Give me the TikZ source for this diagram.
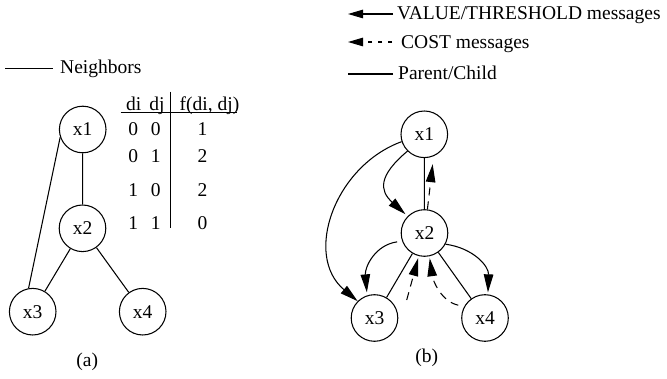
\documentclass[tikz,border=0pt]{standalone}
\usepackage{fontspec}
\setmainfont{Liberation Serif}
\usetikzlibrary{arrows.meta}
\begin{document}
\begin{tikzpicture}[x=1pt,y=-1pt,
  every node/.style={font=\fontsize{19.5}{23}\selectfont},
  var/.style={draw,circle,minimum size=46.6pt,inner sep=0pt,line width=1.05pt},
  link/.style={line width=1.05pt},
  msg/.style={line width=1.05pt,-{Triangle[length=18pt,width=9.5pt]}},
  cost/.style={msg,dash pattern=on 8pt off 6pt},
  txt/.style={anchor=base,inner sep=0pt},
  lbl/.style={anchor=base west,inner sep=0pt}]
\useasboundingbox (0,0) rectangle (667,379);

% ---------- (a): constraint graph ----------
\coordinate (n0) at (5,68.3);
\coordinate (n1) at (53.3,68.3);
\draw[link] (n0) -- (n1);
\node[lbl] (nlab) at (60,74) {Neighbors};

\node[var] (a1) at (82.7,129.5) {x1};
\node[var] (a2) at (82.5,228.3) {x2};
\node[var] (a3) at (32.7,311.7) {x3};
\node[var] (a4) at (142.7,311.7) {x4};
\draw[link] (a1) -- (a2);
\draw[link] (a1.199) -- (a3.100);
\draw[link] (a2) -- (a3);
\draw[link] (a2) -- (a4);
\node (alab) at (87.3,361.7) {(a)};

% constraint table
\node[txt] (hdi) at (133.6,111) {di};
\node[txt] (hdj) at (157,111) {dj};
\node[txt] (hf) at (209.5,111) {f(di, dj)};
\coordinate (h0) at (120.7,112.7);
\coordinate (h1) at (237.3,112.7);
\coordinate (v0) at (170.7,91.7);
\coordinate (v1) at (170.7,228.3);
\draw[link] (h0) -- (h1);
\draw[link] (v0) -- (v1);
\foreach \i/\a/\b/\f/\y in {1/0/0/1/136, 2/0/1/2/163, 3/1/0/2/196.5, 4/1/1/0/230}{
  \node[txt] (ra\i) at (133.3,\y) {\a};
  \node[txt] (rb\i) at (155.7,\y) {\b};
  \node[txt] (rf\i) at (202.5,\y) {\f};
}

% ---------- (b): message passing ----------
% legend
\coordinate (l1a) at (393,14);  \coordinate (l1b) at (348,14);
\coordinate (l2a) at (392,42);  \coordinate (l2b) at (348,42);
\coordinate (l3a) at (393,74);  \coordinate (l3b) at (348,74);
\draw[msg,-{Triangle[length=15pt,width=8.5pt]}] (l1a) -- (l1b);
\draw[msg,-{Triangle[length=15pt,width=8.5pt]},dash pattern=on 4.5pt off 5.5pt] (l2a) -- (l2b);
\draw[link] (l3a) -- (l3b);
\node[lbl] (lt1) at (397,20) {VALUE/THRESHOLD messages};
\node[lbl] (lt2) at (401,48.3) {COST messages};
\node[lbl] (lt3) at (398,80) {Parent/Child};

\node[var] (b1) at (424.3,134.3) {x1};
\node[var] (b2) at (424.5,233) {x2};
\node[var] (b3) at (374.5,318) {x3};
\node[var] (b4) at (485,318) {x4};
\draw[link] (b1) -- (b2);
\draw[link] (b2) -- (b3);
\draw[link] (b2) -- (b4);

% VALUE/THRESHOLD messages
\draw[msg] (b1.198) to[out=200,in=140,looseness=1.1] (b3.135);
\draw[msg,shorten >=3pt] (b1.225) to[out=220,in=138,looseness=1.5] (b2.135);
\draw[msg,shorten <=5pt,shorten >=3pt] (b2.200) to[out=188,in=95,looseness=1.1] (b3.108);
\draw[msg,shorten >=2pt] (b2.-28) to[out=-8,in=88,looseness=1.1] (b4.83);

% COST messages
\coordinate (c3) at (406.7,300);
\draw[cost,shorten >=8pt] (b2.83) -- (b1.-67);
\draw[cost,shorten >=2pt] (c3) -- (b2.256);
\draw[cost,shorten <=6pt,shorten >=2pt] (b4.151) to[out=168,in=278] (b2.282);

\node (blab) at (426.7,358.3) {(b)};
\end{tikzpicture}
\end{document}
